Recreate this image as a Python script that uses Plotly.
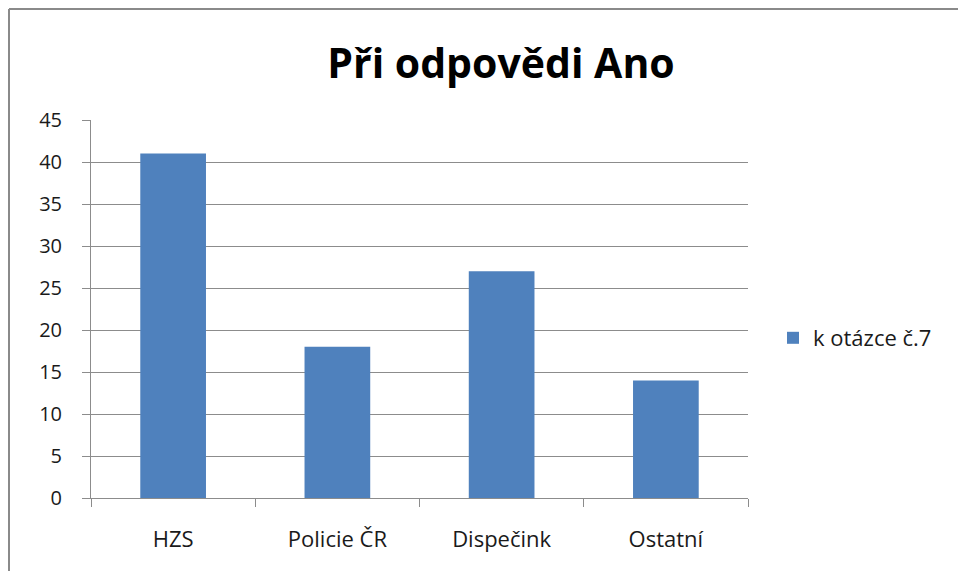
import plotly.graph_objects as go

categories = ["HZS", "Policie ČR", "Dispečink", "Ostatní"]
values = [41, 18, 27, 14]
series_name = "k otázce č.7"
title_text = "Při odpovědi Ano"
y_ticks = [0, 5, 10, 15, 20, 25, 30, 35, 40, 45]

W, H = 966, 579
OFF = 8  # page body margin
FW, FH = W - 2 * OFF, H - 2 * OFF  # figure fits inside the page without overflow
L, R, T, B = 91, 218, 120, 81  # desired plot area in screenshot pixels
pw, ph = W - L - R, H - T - B

def px_x(x):
    return (x - L) / pw

def px_y(y):
    return (H - B - y) / ph

font_family = "Open Sans, Noto Sans, DejaVu Sans, sans-serif"
grid_col = "#8c8c8c"
txt_col = "#1a1a1a"
frame_col = "#8a8a8a"

fig = go.Figure()
fig.add_trace(go.Bar(
    x=categories, y=values, name=series_name,
    marker=dict(color="#4F81BD", line=dict(width=0)),
    showlegend=True,
))

fig.update_layout(
    width=FW, height=FH,
    margin=dict(l=L - OFF, r=R - OFF, t=T - OFF, b=B - OFF, pad=0),
    paper_bgcolor="white", plot_bgcolor="white",
    bargap=0.6,
    font=dict(family=font_family, color=txt_col, size=20),
    title=dict(text="<b>" + title_text + "</b>", xref="container", x=(501 - OFF) / FW,
               xanchor="center", yref="container", y=1 - (64 - OFF) / FH, yanchor="middle",
               font=dict(size=41, color="black", family=font_family)),
    showlegend=True,
    legend=dict(x=px_x(773), y=px_y(338), xanchor="left", yanchor="middle",
                font=dict(size=22, color=txt_col), bgcolor="rgba(0,0,0,0)",
                itemwidth=30),
    xaxis=dict(
        type="category", showgrid=False, showline=True, linecolor=grid_col, linewidth=1,
        ticks="outside", tickson="boundaries", ticklen=8, tickcolor=grid_col,
        tickfont=dict(size=22, color=txt_col), ticklabelstandoff=22,
        range=[-0.5, 3.5],
    ),
    yaxis=dict(
        range=[0, 45], tickvals=y_ticks, showgrid=True, gridcolor=grid_col, gridwidth=1,
        showline=True, linecolor=grid_col, linewidth=1,
        ticks="outside", ticklen=8, tickcolor=grid_col,
        tickfont=dict(size=20, color=txt_col), ticklabelstandoff=16,
        zeroline=False,
    ),
    shapes=[
        dict(type="line", xref="paper", yref="paper",
             x0=px_x(9), x1=px_x(9), y0=px_y(H), y1=px_y(9),
             line=dict(color=frame_col, width=2), layer="below"),
        dict(type="line", xref="paper", yref="paper",
             x0=px_x(9), x1=px_x(W), y0=px_y(9), y1=px_y(9),
             line=dict(color=frame_col, width=2), layer="below"),
    ],
)

fig.write_html("out.html")
